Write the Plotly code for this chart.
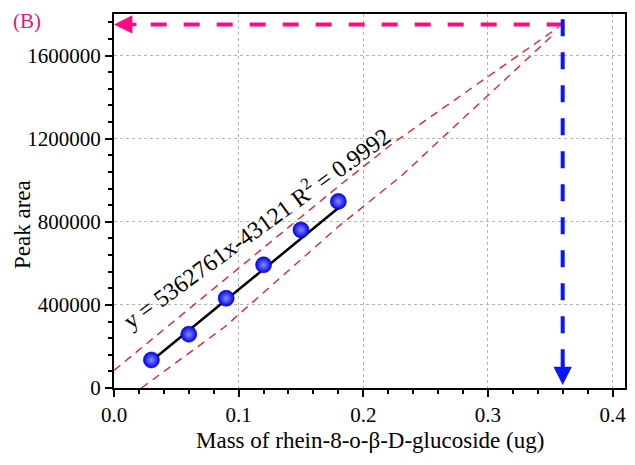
import plotly.graph_objects as go

# ---- data ----
mass = [0.03, 0.06, 0.09, 0.12, 0.15, 0.18]
peak_area = [135000, 259000, 432000, 593000, 761000, 898000]

fit_x = [0.03, 0.18]
fit_y = [130000, 866000]

upper_x = [0.0, 0.064, 0.18, 0.224, 0.357]
upper_y = [85000, 400000, 970000, 1179000, 1738000]
lower_x = [0.022, 0.089, 0.18, 0.23, 0.354]
lower_y = [0, 295000, 777000, 1018000, 1709000]

sample_mass = 0.36
sample_area = 1750000
blue_top = 1775000
pink_end = 0.025
blue_end = 70000

x_ticks = [0.0, 0.1, 0.2, 0.3, 0.4]
x_ticklabels = ["0.0", "0.1", "0.2", "0.3", "0.4"]
y_ticks = [0, 400000, 800000, 1200000, 1600000]
y_ticklabels = ["0", "400000", "800000", "1200000", "1600000"]

equation = "y = 5362761x-43121 R<sup>2</sup> = 0.9992"
x_title = "Mass of rhein-8-o-β-D-glucoside (ug)"
y_title = "Peak area"
panel = "(B)"

FONT = "Liberation Serif"
PINK = "#ff0a84"
BLUE = "#0a14ff"
RED = "#e8232a"

fig = go.Figure()

# prediction band lines
fig.add_trace(go.Scatter(x=upper_x, y=upper_y, mode="lines",
                         line=dict(color=RED, width=1.4, dash="8px,6px"),
                         hoverinfo="skip", showlegend=False))
fig.add_trace(go.Scatter(x=lower_x, y=lower_y, mode="lines",
                         line=dict(color=RED, width=1.4, dash="8px,6px"),
                         hoverinfo="skip", showlegend=False))

# pink horizontal dashed line
fig.add_trace(go.Scatter(x=[sample_mass, pink_end], y=[sample_area, sample_area], mode="lines",
                         line=dict(color=PINK, width=4, dash="16px,17px"),
                         hoverinfo="skip", showlegend=False))
# blue vertical dashed line
fig.add_trace(go.Scatter(x=[sample_mass, sample_mass], y=[blue_top, blue_end], mode="lines",
                         line=dict(color=BLUE, width=4, dash="17px,16px"),
                         hoverinfo="skip", showlegend=False))

# fit line
fig.add_trace(go.Scatter(x=fit_x, y=fit_y, mode="lines",
                         line=dict(color="black", width=2.5),
                         hoverinfo="skip", showlegend=False))
# data points (sphere-like: light centre, deep blue edge)
fig.add_trace(go.Scatter(x=mass, y=peak_area, mode="markers",
                         marker=dict(size=16, color="#0000ee",
                                     gradient=dict(type="radial", color="#8a8eff"),
                                     line=dict(width=0.6, color="#0000c0")),
                         showlegend=False))

axis_common = dict(
    showline=True, linecolor="black", linewidth=2, mirror=True,
    ticks="outside", ticklen=7, tickwidth=1.5, tickcolor="black",
    showgrid=True, gridcolor="#b4b4b4", gridwidth=1, griddash="3px,3px",
    zeroline=False,
    tickfont=dict(family=FONT, size=21, color="black"),
)

fig.update_xaxes(range=[0, 0.41], tickvals=x_ticks, ticktext=x_ticklabels,
                 minor=dict(dtick=0.02, tick0=0, ticks="outside", ticklen=4,
                            tickcolor="black", showgrid=False),
                 **axis_common)
fig.update_yaxes(range=[0, 1800000], tickvals=y_ticks, ticktext=y_ticklabels,
                 minor=dict(dtick=80000, tick0=0, ticks="outside", ticklen=4,
                            tickcolor="black", showgrid=False),
                 **axis_common)

# page body has an 8px margin, so the figure is offset by 8px in the window
OFF = 8
W, H = 635 - OFF, 465 - OFF
pl, pt = 114 - OFF, 14 - OFF
pw, ph = 511, 374
pr = W - pl - pw
pb = H - pt - ph

annotations = [
    # equation
    dict(x=0.1135, y=775000, xref="x", yref="y", text=equation, showarrow=False,
         textangle=-36, font=dict(family=FONT, size=24, color="black"),
         xanchor="center", yanchor="middle"),
    # pink arrowhead
    dict(x=0, y=sample_area, xref="x", yref="y", text="", showarrow=True,
         ax=24, ay=0, arrowhead=2, arrowsize=1.05, arrowwidth=3.5, arrowcolor=PINK),
    # blue arrowhead
    dict(x=sample_mass, y=0, xref="x", yref="y", text="", showarrow=True,
         ax=0, ay=-26, arrowhead=2, arrowsize=1.05, arrowwidth=3.5, arrowcolor=BLUE,
         standoff=3),
    # axis titles
    dict(x=0.5, y=(388 - 440) / ph, xref="paper", yref="paper", text=x_title, showarrow=False,
         font=dict(family=FONT, size=23, color="black"), xanchor="center", yanchor="middle"),
    dict(x=(22 - 114) / pw, y=(388 - 225) / ph, xref="paper", yref="paper", text=y_title,
         showarrow=False, textangle=-90, font=dict(family=FONT, size=23, color="black"),
         xanchor="center", yanchor="middle"),
    # panel label
    dict(x=(27 - 114) / pw, y=(388 - 21) / ph, xref="paper", yref="paper", text=panel,
         showarrow=False, font=dict(family=FONT, size=21, color="#e0197d"),
         xanchor="center", yanchor="middle"),
]

fig.update_layout(
    width=W, height=H,
    margin=dict(l=pl, r=pr, t=pt, b=pb, autoexpand=False),
    plot_bgcolor="white", paper_bgcolor="white",
    annotations=annotations,
    showlegend=False,
)

fig.write_html("out.html")
